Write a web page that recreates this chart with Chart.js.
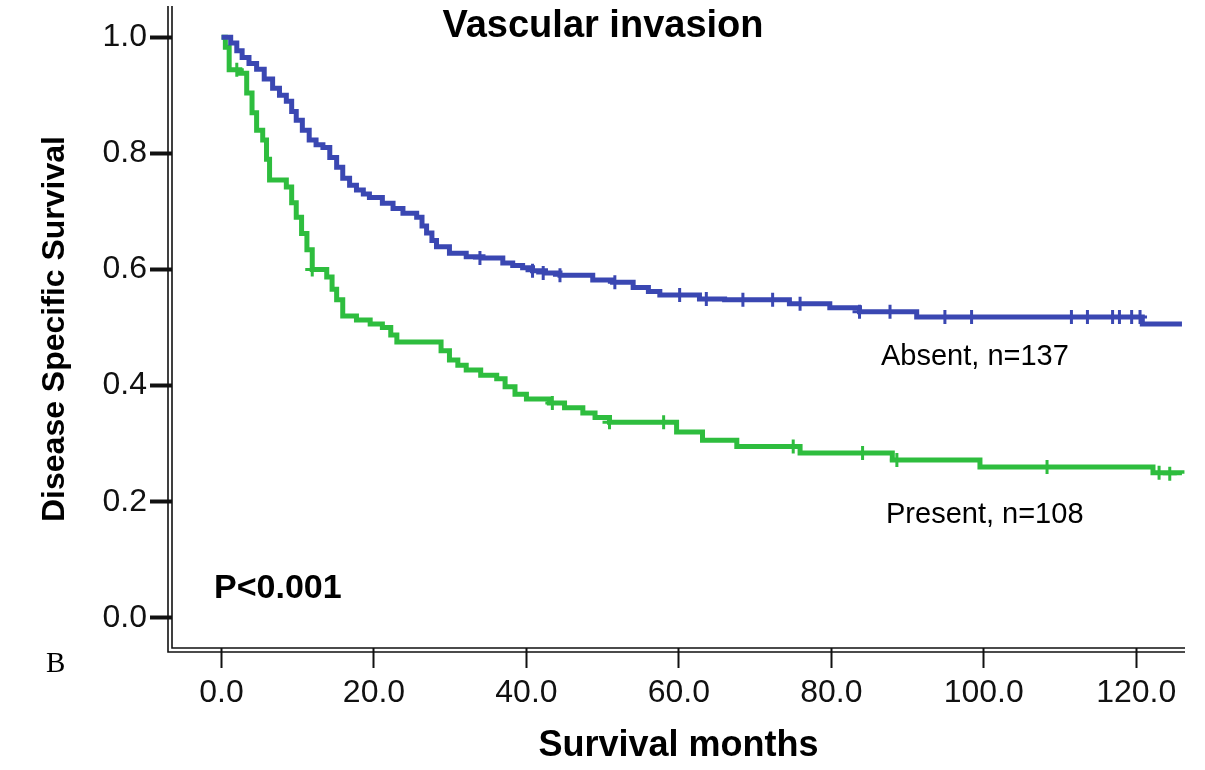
<!DOCTYPE html>
<html>
<head>
<meta charset="utf-8">
<title>Vascular invasion</title>
<script src="https://cdn.jsdelivr.net/npm/chart.js@4.4.1/dist/chart.umd.min.js"></script>
<style>
    html, body { margin: 0; padding: 0; background: #fff; }
    #wrap { width: 1205px; height: 770px; position: relative; }
</style>
</head>
<body>
<div id="wrap"><canvas id="km-chart"></canvas></div>
<script>
// Kaplan-Meier data
const absentMonths = [0, 1.2, 2.0, 2.7, 3.6, 4.6, 5.6, 6.7, 7.6, 8.5, 9.2, 9.8, 10.6, 11.5, 12.4, 13.3,
    14.2, 15.1, 15.9, 16.8, 17.7, 18.6, 19.4, 21.1, 22.5, 23.8, 25.6, 26.3, 26.9, 27.6, 28.2, 29.9,
    32.1, 34.3, 36.9, 38.2, 39.5, 40.8, 42.5, 44.4, 48.7, 51.3, 54.0, 56.0, 57.5, 62.7, 66.0, 74.5,
    79.8, 83.7, 91.2, 120.8, 126.0];
const absentSurvival = [1.0, 0.99, 0.977, 0.965, 0.955, 0.945, 0.928, 0.912, 0.9, 0.89, 0.872, 0.857, 0.84, 0.823, 0.815, 0.81,
    0.793, 0.776, 0.757, 0.745, 0.737, 0.73, 0.724, 0.714, 0.705, 0.697, 0.69, 0.675, 0.663, 0.65, 0.639, 0.628,
    0.622, 0.62, 0.611, 0.607, 0.603, 0.598, 0.594, 0.59, 0.582, 0.578, 0.569, 0.562, 0.556, 0.549, 0.548, 0.541,
    0.534, 0.527, 0.518, 0.506, 0.506];
const absentCensorMonths = [33.9, 40.8, 42.2, 44.4, 51.6, 60.1, 63.6, 68.4, 72.3, 75.9, 83.7, 87.7, 94.9, 98.4,
    111.5, 113.6, 116.9, 117.8, 119.4, 120.5];
const absentCensorSurvival = [0.62, 0.598, 0.594, 0.59, 0.578, 0.556, 0.549, 0.548, 0.548, 0.541, 0.527, 0.527, 0.518, 0.518,
    0.518, 0.518, 0.518, 0.518, 0.518, 0.518];

const presentMonths = [0, 0.5, 1.0, 2.4, 3.3, 4.0, 4.6, 5.4, 5.9, 6.3, 8.5, 9.2, 9.8, 10.5, 11.2, 11.9,
    13.8, 14.5, 15.1, 15.9, 17.7, 19.5, 21.1, 22.2, 23.0, 28.8, 29.9, 31.0, 32.1, 34.0, 36.1, 37.2,
    38.5, 40.0, 43.0, 45.0, 47.4, 49.0, 50.9, 59.7, 63.1, 67.6, 75.9, 88.0, 99.5, 122.2, 126.0];
const presentSurvival = [1.0, 0.983, 0.944, 0.938, 0.904, 0.87, 0.84, 0.823, 0.79, 0.754, 0.742, 0.715, 0.69, 0.662, 0.634, 0.6,
    0.587, 0.566, 0.548, 0.52, 0.513, 0.506, 0.5, 0.487, 0.475, 0.46, 0.444, 0.435, 0.427, 0.418, 0.412, 0.398,
    0.385, 0.377, 0.37, 0.362, 0.353, 0.345, 0.337, 0.32, 0.306, 0.295, 0.284, 0.272, 0.26, 0.25, 0.248];
const presentCensorMonths = [2.0, 11.9, 43.4, 50.9, 58.0, 75.0, 84.1, 88.6, 108.3, 123.0, 124.4];
const presentCensorSurvival = [0.944, 0.6, 0.37, 0.337, 0.337, 0.295, 0.284, 0.272, 0.26, 0.25, 0.248];

const xTickValues = [0, 20, 40, 60, 80, 100, 120];
const yTickValues = [0, 0.2, 0.4, 0.6, 0.8, 1.0];

const BLUE = '#3a47b2';
const GREEN = '#2ebd3e';
const FONT = '"Liberation Sans", Arial, sans-serif';

function toPoints(xs, ys) {
    return xs.map((x, i) => ({ x: x, y: ys[i] }));
}

// Double axis frame + text annotations
const extrasPlugin = {
    id: 'extras',
    afterDraw(chart) {
        const { ctx, chartArea } = chart;
        ctx.save();
        ctx.strokeStyle = '#111';
        ctx.lineWidth = 1.6;
        ctx.beginPath();
        // y axis, two lines
        ctx.moveTo(chartArea.left - 4, chartArea.top - 4);
        ctx.lineTo(chartArea.left - 4, chartArea.bottom + 4);
        ctx.lineTo(chartArea.right, chartArea.bottom + 4);
        ctx.moveTo(chartArea.left, chartArea.top - 4);
        ctx.lineTo(chartArea.left, chartArea.bottom);
        ctx.lineTo(chartArea.right, chartArea.bottom);
        ctx.stroke();

        ctx.fillStyle = '#000';
        ctx.textBaseline = 'alphabetic';
        ctx.textAlign = 'center';
        ctx.font = 'bold 38px ' + FONT;
        ctx.fillText('Vascular invasion', 603, 37);

        ctx.textAlign = 'left';
        ctx.font = 'bold 34px ' + FONT;
        ctx.fillText('P<0.001', 214, 598);

        ctx.font = '29px ' + FONT;
        ctx.fillText('Absent, n=137', 881, 365);
        ctx.fillText('Present, n=108', 886, 523);

        ctx.font = '29px "Liberation Serif", "Times New Roman", serif';
        ctx.fillText('B', 46, 672);
        ctx.restore();
    }
};

const ctx = document.getElementById('km-chart');
new Chart(ctx, {
    type: 'scatter',
    data: {
        datasets: [
            {
                label: 'Absent, n=137',
                data: toPoints(absentMonths, absentSurvival),
                showLine: true,
                stepped: true,
                borderColor: BLUE,
                borderWidth: 5,
                pointRadius: 0
            },
            {
                label: 'Present, n=108',
                data: toPoints(presentMonths, presentSurvival),
                showLine: true,
                stepped: true,
                borderColor: GREEN,
                borderWidth: 5,
                pointRadius: 0
            },
            {
                label: 'Absent censored',
                data: toPoints(absentCensorMonths, absentCensorSurvival),
                pointStyle: 'cross',
                pointRadius: 7,
                pointBorderWidth: 3,
                borderColor: BLUE,
                backgroundColor: BLUE
            },
            {
                label: 'Present censored',
                data: toPoints(presentCensorMonths, presentCensorSurvival),
                pointStyle: 'cross',
                pointRadius: 7,
                pointBorderWidth: 3,
                borderColor: GREEN,
                backgroundColor: GREEN
            }
        ]
    },
    options: {
        responsive: true,
        maintainAspectRatio: false,
        animation: false,
        layout: { padding: { top: 0, right: 20, left: 0, bottom: 0 } },
        plugins: {
            legend: { display: false },
            tooltip: { enabled: false },
            title: { display: false }
        },
        scales: {
            x: {
                type: 'linear',
                min: -6.5,
                max: 126.4,
                afterBuildTicks: (axis) => { axis.ticks = xTickValues.map(v => ({ value: v })); },
                afterFit: (axis) => {
                    axis.height = 122;
                    axis.paddingLeft = 0;
                    axis.paddingRight = 0;
                },
                border: { display: false },
                grid: {
                    drawOnChartArea: false,
                    drawTicks: true,
                    tickLength: 20,
                    tickWidth: 2,
                    tickColor: '#111'
                },
                ticks: {
                    color: '#111',
                    padding: 6,
                    maxRotation: 0,
                    font: { family: FONT, size: 32 },
                    callback: (v) => Number(v).toFixed(1)
                },
                title: {
                    display: true,
                    text: 'Survival months',
                    color: '#000',
                    font: { family: FONT, size: 36, weight: 'bold' },
                    padding: { top: 0, bottom: 2 }
                }
            },
            y: {
                type: 'linear',
                min: -0.052,
                max: 1.047,
                afterBuildTicks: (axis) => { axis.ticks = yTickValues.map(v => ({ value: v })); },
                afterFit: (axis) => {
                    axis.width = 172;
                    axis.paddingTop = 0;
                    axis.paddingBottom = 0;
                },
                border: { display: false },
                grid: {
                    drawOnChartArea: false,
                    drawTicks: true,
                    tickLength: 22,
                    tickWidth: 4,
                    tickColor: '#111'
                },
                ticks: {
                    color: '#111',
                    padding: 3,
                    font: { family: FONT, size: 32 },
                    callback: (v) => Number(v).toFixed(1)
                },
                title: {
                    display: true,
                    text: 'Disease Specific Survival',
                    color: '#000',
                    font: { family: FONT, size: 32, weight: 'bold' },
                    padding: { top: 36, bottom: 0 }
                }
            }
        }
    },
    plugins: [extrasPlugin]
});
</script>
</body>
</html>
